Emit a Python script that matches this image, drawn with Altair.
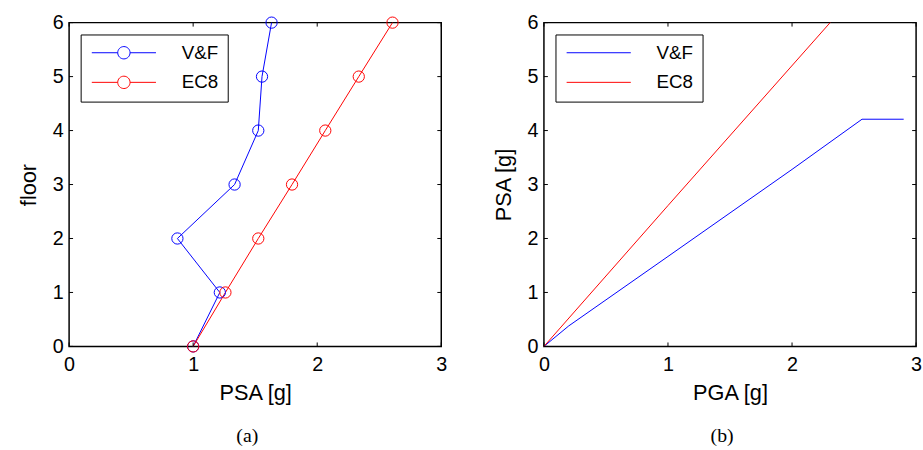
import altair as alt
import pandas as pd

# Panel (a): peak storey acceleration along the height of the building
floors = [0, 1, 2, 3, 4, 5, 6]
psa_vf = [1.00, 1.215, 0.873, 1.334, 1.525, 1.555, 1.632]
psa_ec8 = [1.00, 1.26, 1.525, 1.797, 2.065, 2.335, 2.607]

# Panel (b): PSA as a function of PGA
pga_vf = [0.0, 0.2, 1.0, 2.0, 2.564, 2.90]
psa_b_vf = [0.0, 0.38, 1.667, 3.28, 4.21, 4.21]
pga_ec8 = [0.0, 1.0, 2.307]
psa_b_ec8 = [0.0, 2.61, 6.0]

series = ["V&F", "EC8"]
colors = ["#0000ff", "#ff0000"]
x_ticks = [0, 1, 2, 3]
y_ticks = [0, 1, 2, 3, 4, 5, 6]
captions = ["(a)", "(b)"]

W, H = 377, 328
TICK = 4
FONT = "Liberation Sans"

xscale = alt.Scale(domain=[0, 3], nice=False, zero=False)
yscale = alt.Scale(domain=[0, 6], nice=False, zero=False)
cscale = alt.Scale(domain=series, range=colors)

# line + open circle, and plain line, as legend glyphs
SYM_MARKER = "M-6.5,0H-1.25M1.25,0H6.5M-1.25,0A1.25,1.25,0,1,0,1.25,0A1.25,1.25,0,1,0,-1.25,0"
SYM_LINE = "M-6.5,0H6.5"


def x_axis(title):
    return alt.Axis(title=title, values=x_ticks, format="d", ticks=False, grid=False,
                    domain=False, labelFont=FONT, labelFontSize=20, labelColor="black",
                    labelPadding=8.5, labelFlush=False, labelOverlap=False,
                    titleFont=FONT, titleFontSize=22, titleFontWeight="normal",
                    titleColor="black", titleBaseline="alphabetic", titleY=53.5)


def y_axis(title):
    return alt.Axis(title=title, values=y_ticks, format="d", ticks=False, grid=False,
                    domain=False, labelFont=FONT, labelFontSize=20, labelColor="black",
                    labelPadding=6, labelFlush=False, labelOverlap=False,
                    titleFont=FONT, titleFontSize=22, titleFontWeight="normal",
                    titleColor="black", titleBaseline="alphabetic", titleAngle=270,
                    titleX=-34)


def legend(symbol):
    return alt.Legend(title=None, orient="none", legendX=11.7, legendY=12,
                      symbolType=symbol, symbolSize=100, symbolStrokeWidth=1,
                      symbolFillColor="transparent", symbolOffset=25.3, labelOffset=49,
                      labelFont=FONT, labelFontSize=19, labelColor="black",
                      padding=9, rowPadding=10, strokeColor="black",
                      fillColor="white", cornerRadius=0)


def inward_ticks(xt, yt):
    """MATLAB-style ticks pointing into the frame on all four sides."""
    dx = pd.DataFrame({"v": x_ticks})
    dy = pd.DataFrame({"v": y_ticks})
    rule = dict(color="black", strokeWidth=1)
    bottom = alt.Chart(dx).mark_rule(**rule).encode(
        x=alt.X("v:Q", scale=xscale, axis=x_axis(xt)), y=alt.value(H), y2=alt.value(H - TICK))
    top = alt.Chart(dx).mark_rule(**rule).encode(
        x=alt.X("v:Q", scale=xscale, axis=x_axis(xt)), y=alt.value(0), y2=alt.value(TICK))
    left = alt.Chart(dy).mark_rule(**rule).encode(
        y=alt.Y("v:Q", scale=yscale, axis=y_axis(yt)), x=alt.value(0), x2=alt.value(TICK))
    right = alt.Chart(dy).mark_rule(**rule).encode(
        y=alt.Y("v:Q", scale=yscale, axis=y_axis(yt)), x=alt.value(W), x2=alt.value(W - TICK))
    return [bottom, top, left, right]


def caption(text):
    return alt.Chart(pd.DataFrame({"t": [text]})).mark_text(
        font="Liberation Serif", fontSize=20, baseline="alphabetic", align="center",
        color="black").encode(text="t:N", x=alt.value(W / 2 - 8), y=alt.value(H + 97))


# ---- panel (a)
df_a = pd.DataFrame({
    "floor": floors + floors,
    "psa": psa_vf + psa_ec8,
    "series": [series[0]] * len(floors) + [series[1]] * len(floors),
})
enc_a = dict(
    x=alt.X("psa:Q", scale=xscale, axis=x_axis("PSA [g]")),
    y=alt.Y("floor:Q", scale=yscale, axis=y_axis("floor")),
    color=alt.Color("series:N", scale=cscale, legend=legend(SYM_MARKER)),
    order=alt.Order("floor:Q"),
)
lines_a = alt.Chart(df_a).mark_line(strokeWidth=1).encode(**enc_a)
points_a = alt.Chart(df_a).mark_point(filled=False, size=130, strokeWidth=1,
                                      opacity=1, shape="circle").encode(**enc_a)
panel_a = alt.layer(lines_a, points_a, *inward_ticks("PSA [g]", "floor"),
                    caption(captions[0])).properties(width=W, height=H)

# ---- panel (b)
df_b = pd.DataFrame({
    "pga": pga_vf + pga_ec8,
    "psa": psa_b_vf + psa_b_ec8,
    "series": [series[0]] * len(pga_vf) + [series[1]] * len(pga_ec8),
})
lines_b = alt.Chart(df_b).mark_line(strokeWidth=1).encode(
    x=alt.X("pga:Q", scale=xscale, axis=x_axis("PGA [g]")),
    y=alt.Y("psa:Q", scale=yscale, axis=y_axis("PSA [g]")),
    color=alt.Color("series:N", scale=cscale, legend=legend(SYM_LINE)),
)
panel_b = alt.layer(lines_b, *inward_ticks("PGA [g]", "PSA [g]"),
                    caption(captions[1])).properties(width=W, height=H)

chart = alt.hconcat(panel_a, panel_b, spacing=104, bounds="flush").resolve_scale(
    color="independent"
).properties(
    padding={"left": 17, "top": 9, "right": 0, "bottom": 0},
    background="white",
).configure_view(stroke="black", strokeWidth=1.5)

chart.save("out.html", embed_options={"renderer": "svg", "actions": False})
